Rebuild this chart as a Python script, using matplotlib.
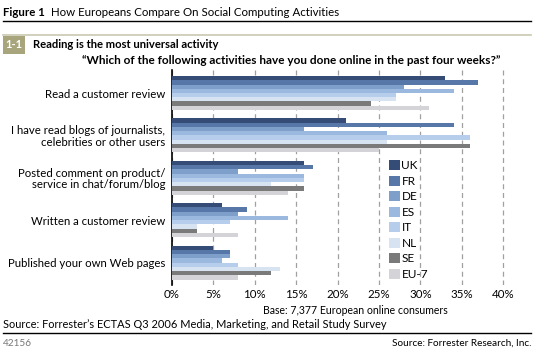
import matplotlib
matplotlib.use("Agg")
import matplotlib.pyplot as plt
from matplotlib.patches import Rectangle
from matplotlib.lines import Line2D
import numpy as np

plt.rcParams['font.family'] = ['Lato', 'DejaVu Sans']

categories = ["Read a customer review",
              "I have read blogs of journalists,\ncelebrities or other users",
              "Posted comment on product/\nservice in chat/forum/blog",
              "Written a customer review",
              "Published your own Web pages"]
series_names = ["UK", "FR", "DE", "ES", "IT", "NL", "SE", "EU-7"]
UK = [33, 21, 16, 6, 5]
FR = [37, 34, 17, 9, 7]
DE = [28, 16, 8, 8, 7]
ES = [34, 26, 16, 14, 6]
IT = [27, 36, 16, 7, 8]
NL = [27, 26, 12, 3, 13]
SE = [24, 36, 16, 3, 12]
EU7 = [31, 25, 14, 8, 8]
series_values = [UK, FR, DE, ES, IT, NL, SE, EU7]
xticks = [0, 5, 10, 15, 20, 25, 30, 35, 40]
xtick_labels = ["0%", "5%", "10%", "15%", "20%", "25%", "30%", "35%", "40%"]

colors = ["#354c77", "#5677a8", "#7f9fcb", "#9bb8de", "#b6cdec", "#d8e3f1", "#7a7a7a", "#d3d3d8"]

W, H = 534, 352
fig = plt.figure(figsize=(W / 100, H / 100), dpi=100)

def fx(x):
    return x / W

def fy(y):
    return 1 - y / H

ax_left, ax_right, ax_top, ax_bot = 172, 520, 70, 285
ax = fig.add_axes([fx(ax_left), fy(ax_bot), fx(ax_right - ax_left), (ax_bot - ax_top) / H])

n = len(series_names)
bh = 0.1
ypos = np.arange(len(categories))
handles = []
for i, (name, vals, c) in enumerate(zip(series_names, series_values, colors)):
    offs = (i - (n - 1) / 2) * bh
    b = ax.barh(ypos + offs, vals, height=bh, color=c, label=name, zorder=3, linewidth=0)
    handles.append(b)

unit = 42.4
span = (ax_bot - ax_top) / unit
top_margin = (93 - ax_top) / unit
ax.set_ylim(-top_margin + span, -top_margin)
ax.set_xlim(0, (ax_right - ax_left) / 8.28)
ax.set_xticks(xticks)
ax.set_xticklabels(xtick_labels, fontsize=8.3)
ax.set_yticks(ypos)
ax.set_yticklabels(categories, fontsize=8.2, linespacing=1.05)
ax.tick_params(axis='both', length=0)
ax.tick_params(axis='y', pad=5)
ax.tick_params(axis='x', pad=3)
for s in ['top', 'right', 'bottom']:
    ax.spines[s].set_visible(False)
ax.spines['left'].set_color('black')
ax.spines['left'].set_linewidth(1.2)
ax.xaxis.grid(True, linestyle=(0, (4, 3)), color='#a0a0a0', linewidth=0.9, zorder=0)
ax.set_axisbelow(True)

leg = ax.legend(handles=handles, loc='upper left', bbox_to_anchor=(fx(389), fy(160)),
                bbox_transform=fig.transFigure, frameon=False, fontsize=8.5,
                handlelength=0.95, handleheight=0.95, handletextpad=0.1,
                labelspacing=0.37, borderpad=0, borderaxespad=0)

# Header
fig.text(fx(3), fy(12), "Figure 1", fontsize=8.3, fontweight='bold', va='center', ha='left')
fig.text(fx(51), fy(12), "How Europeans Compare On Social Computing Activities", fontsize=8.3,
         va='center', ha='left')
fig.add_artist(Line2D([fx(3), fx(531)], [fy(21), fy(21)], color='black', linewidth=1.0))
fig.add_artist(Line2D([fx(3), fx(531)], [fy(35), fy(35)], color='#c9c8b0', linewidth=1.2))
fig.add_artist(Rectangle((fx(3), fy(54)), fx(22), (54 - 36) / H, color='#a8a47b', linewidth=0))
fig.text(fx(14), fy(45), "1-1", fontsize=8, fontweight='bold', color='white', va='center', ha='center')
fig.text(fx(33), fy(45), "Reading is the most universal activity", fontsize=8.1, fontweight='bold',
         va='center', ha='left')
fig.text(fx(82), fy(60), "\u201cWhich of the following activities have you done online in the past four weeks?\u201d",
         fontsize=8.5, fontweight='bold', va='center', ha='left')

# Footer
fig.text(fx(263), fy(311), "Base: 7,377 European online consumers", fontsize=7.6, va='center', ha='left')
fig.text(fx(3), fy(325), "Source: Forrester\u2019s ECTAS Q3 2006 Media, Marketing, and Retail Study Survey",
         fontsize=7.9, va='center', ha='left')
fig.add_artist(Line2D([fx(3), fx(531)], [fy(333), fy(333)], color='black', linewidth=1.0))
fig.text(fx(3), fy(343), "42156", fontsize=7.2, color='#777777', va='center', ha='left')
fig.text(fx(531), fy(343), "Source: Forrester Research, Inc.", fontsize=7.2, va='center', ha='right')

fig.savefig("out.png", dpi=100)
